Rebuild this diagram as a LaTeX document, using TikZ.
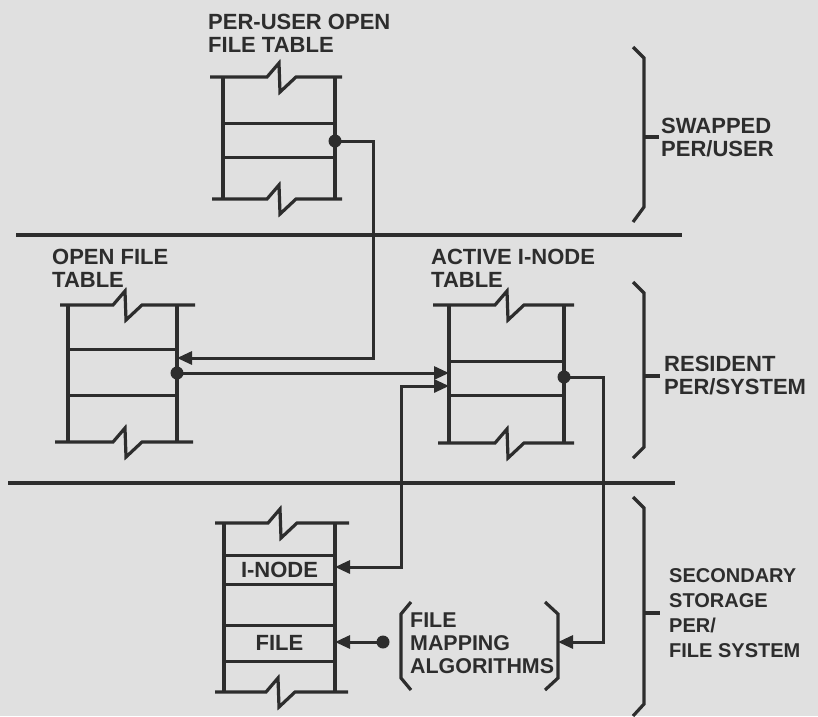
\documentclass[tikz,border=0pt]{standalone}
\usepackage{fontspec}
\setmainfont{Liberation Sans}
\usetikzlibrary{arrows.meta}
\definecolor{paper}{RGB}{224,224,224}
\definecolor{ink}{RGB}{45,45,45}
\newcommand{\brk}[2]{-- (#1,#2) -- ++(12,-14) -- ++(1,29) -- ++(16,-15)}
\tikzset{
  ln/.style={draw=ink, line width=3.2pt, line join=miter},
  thin/.style={draw=ink, line width=3pt},
  conn/.style={draw=ink, line width=3pt},
  tip/.style={-{Triangle[length=15pt,width=13pt]}},
  dotmark/.style={fill=ink, circle, inner sep=0pt, minimum size=13pt},
  lbl/.style={text=ink, inner sep=0pt, font=\bfseries\fontsize{22}{23}\selectfont, align=left},
}
\begin{document}
\begin{tikzpicture}[x=1pt,y=-1pt]
\useasboundingbox[fill=paper] (0,0) rectangle (818,716);

% separators
\draw[ln] (16,235) -- (682,235);
\draw[ln] (8,483) -- (675,483);

% ---------- per-user open file table ----------
\node[lbl, anchor=base west] (tPU) at (208,52) {PER-USER OPEN\\FILE TABLE};
\draw[ln] (210,77) \brk{267}{77} -- (342,77);
\draw[ln] (212,199) \brk{267}{199} -- (342,199);
\draw[ln] (223,77) -- (223,199);
\draw[ln] (335,77) -- (335,199);
\draw[thin] (223,123) -- (335,123);
\draw[thin] (223,157) -- (335,157);
\node[dotmark] (puDot) at (335,141) {};

% ---------- open file table ----------
\node[lbl, anchor=base west] (tOF) at (52,287) {OPEN FILE\\TABLE};
\draw[ln] (60,305) \brk{113}{305} -- (195,305);
\draw[ln] (55,442) \brk{113}{442} -- (193,442);
\draw[ln] (68,305) -- (68,442);
\draw[ln] (177,305) -- (177,442);
\draw[thin] (68,349) -- (177,349);
\draw[thin] (68,395) -- (177,395);
\coordinate (ofIn) at (177,358);
\node[dotmark] (ofDot) at (177,373) {};

% ---------- active i-node table ----------
\node[lbl, anchor=base west] (tAI) at (431,287) {ACTIVE I-NODE\\TABLE};
\draw[ln] (433,305) \brk{495}{305} -- (574,305);
\draw[ln] (438,443) \brk{495}{443} -- (574,443);
\draw[ln] (449,305) -- (449,443);
\draw[ln] (564,305) -- (564,443);
\draw[thin] (449,361) -- (564,361);
\draw[thin] (449,395) -- (564,395);
\coordinate (aiIn1) at (449,373);
\coordinate (aiIn2) at (449,386);
\node[dotmark] (aiDot) at (564,377) {};

% ---------- secondary storage table ----------
\draw[ln] (215,523) \brk{268}{523} -- (349,523);
\draw[ln] (215,692) \brk{266}{692} -- (348,692);
\draw[ln] (224,523) -- (224,692);
\draw[ln] (335,523) -- (335,692);
\draw[thin] (224,555) -- (335,555);
\draw[thin] (224,584) -- (335,584);
\draw[thin] (224,625) -- (335,625);
\draw[thin] (224,661) -- (335,661);
\node[lbl, anchor=center] (inode) at (279.5,570) {I-NODE};
\node[lbl, anchor=center] (file) at (279.5,643) {FILE};
\coordinate (inIn) at (335,567);
\coordinate (fileIn) at (335,642);

% ---------- file mapping algorithms ----------
\draw[ln] (411,602) -- (401,614) -- (401,678) -- (411,690);
\draw[ln] (545,602) -- (558,614) -- (558,678) -- (545,690);
\node[lbl, anchor=base west, font=\bfseries\fontsize{21.4}{23}\selectfont] (fma) at (410,673) {FILE\\MAPPING\\ALGORITHMS};
\coordinate (fmaIn) at (558,642);
\node[dotmark] (fmaDot) at (383,642) {};

% ---------- connectors ----------
\draw[conn, tip] (puDot.center) -- (373,141) -- (373,358) -- (ofIn);
\draw[conn, tip] (ofDot.center) -- (aiIn1);
\draw[conn, {Triangle[length=15pt,width=13pt]}-{Triangle[length=15pt,width=13pt]}] (inIn) -- (401,567) -- (401,386) -- (aiIn2);
\draw[conn, tip] (aiDot.center) -- (603,377) -- (603,642) -- (fmaIn);
\draw[conn, tip] (fmaDot.center) -- (fileIn);

% ---------- right braces ----------
\draw[ln] (633,47) -- (644,58) -- (644,207) -- (633,222);
\draw[ln] (644,137) -- (659,137);
\node[lbl, anchor=base west] (swp) at (661,156) {SWAPPED\\PER/USER};

\draw[ln] (633,282) -- (644,293) -- (644,447) -- (633,458);
\draw[ln] (644,376) -- (660,376);
\node[lbl, anchor=base west] (res) at (664,394) {RESIDENT\\PER/SYSTEM};

\draw[ln] (633,497) -- (644,508) -- (644,704) -- (633,716);
\draw[ln] (644,613) -- (660,613);
\node[lbl, anchor=base west, font=\bfseries\fontsize{20}{25}\selectfont] (sec) at (669,657) {SECONDARY\\STORAGE\\PER/\\FILE SYSTEM};
\end{tikzpicture}
\end{document}
